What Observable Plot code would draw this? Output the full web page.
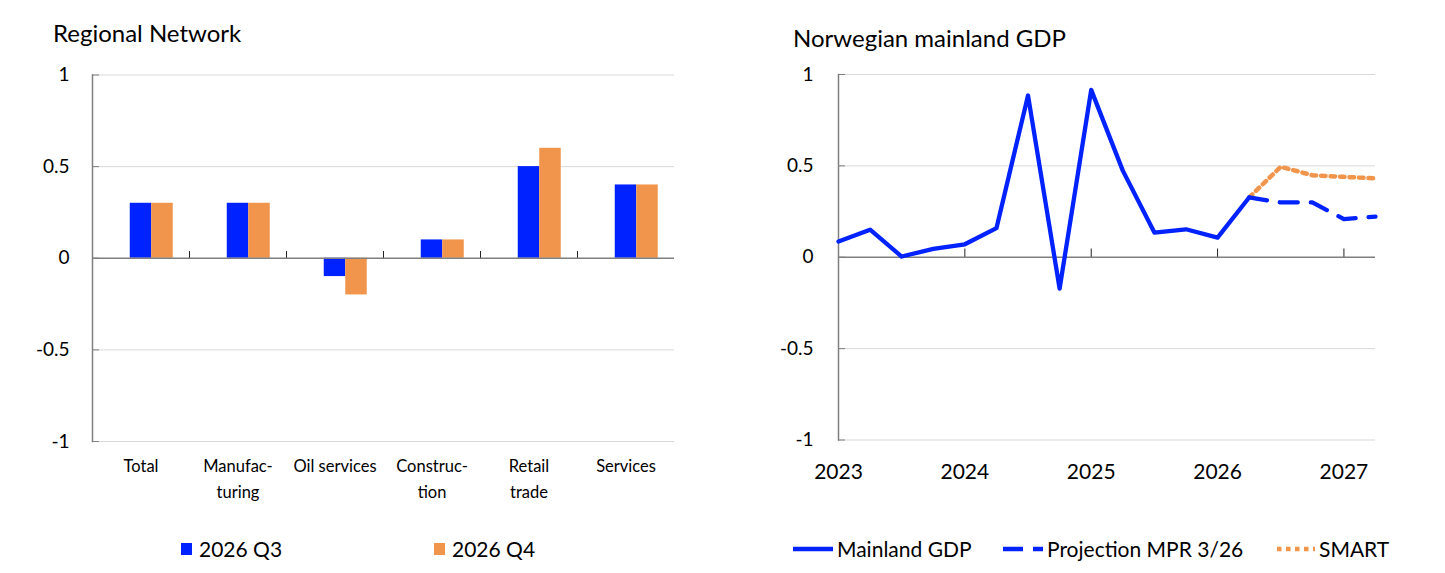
<!DOCTYPE html>
<html>
<head>
<meta charset="utf-8">
<script src="https://cdn.jsdelivr.net/npm/d3@7"></script>
<script src="https://cdn.jsdelivr.net/npm/@observablehq/plot@0.6"></script>
<style>
  html, body { margin: 0; padding: 0; background: #fff; }
  body { font-family: Lato, "Open Sans", sans-serif; color: #000; }
  #wrap { position: relative; width: 1445px; height: 573px; overflow: hidden; }
  .abs { position: absolute; }
  .title { font-size: 24px; line-height: 24px; white-space: nowrap; }
  .leg { font-size: 21px; line-height: 21px; white-space: nowrap; }
  svg { overflow: visible; }
</style>
</head>
<body>
<div id="wrap">
  <div class="abs title" style="left:53px; top:21px;">Regional Network</div>
  <div class="abs title" style="left:793px; top:26px;">Norwegian mainland GDP</div>
  <div id="left" class="abs" style="left:0px; top:50px;"></div>
  <div id="right" class="abs" style="left:720px; top:50px;"></div>
  <div id="legL" class="abs" style="left:0; top:0;"></div>
  <div id="legR" class="abs" style="left:0; top:0;"></div>
</div>
<script>
// ---------- Data ----------
const categories = ["Total", "Manufacturing", "Oil services", "Construction", "Retail trade", "Services"];
const categoryLabels = ["Total", "Manufac-\nturing", "Oil services", "Construc-\ntion", "Retail\ntrade", "Services"];
const seriesQ3 = [0.3, 0.3, -0.1, 0.1, 0.5, 0.4];
const seriesQ4 = [0.3, 0.3, -0.2, 0.1, 0.6, 0.4];
const barSeriesNames = ["2026 Q3", "2026 Q4"];

const yTicks = [-1, -0.5, 0, 0.5, 1];
const yearTicks = [2023, 2024, 2025, 2026, 2027];

const mainlandQuarters = ["2023Q1","2023Q2","2023Q3","2023Q4","2024Q1","2024Q2","2024Q3","2024Q4","2025Q1","2025Q2","2025Q3","2025Q4","2026Q1","2026Q2"];
const mainlandGDP = [0.086, 0.151, 0.004, 0.046, 0.071, 0.159, 0.885, -0.172, 0.916, 0.474, 0.135, 0.153, 0.107, 0.327];
const projQuarters = ["2026Q2","2026Q3","2026Q4","2027Q1","2027Q2"];
const projectionMPR = [0.327, 0.300, 0.300, 0.209, 0.222];
const smartQuarters = ["2026Q2","2026Q3","2026Q4","2027Q1","2027Q2"];
const smart = [0.327, 0.495, 0.449, 0.440, 0.431];
const lineSeriesNames = ["Mainland GDP", "Projection MPR 3/26", "SMART"];

// ---------- Styles ----------
const BLUE = "#0022ff";
const ORANGE = "#f0954b";
const GRID = "#d9d9d9";
const AXIS = "#7f7f7f";
const FONT = "Lato, 'Open Sans', sans-serif";

const qToNum = q => +q.slice(0, 4) + (+q.slice(5) - 1) / 4;

// ---------- Left chart ----------
{
  const W = 700, H = 470, ml = 92, mr = 26;
  const step = (W - ml - mr) / categories.length;
  const bw = 21.5;
  const labelOf = Object.fromEntries(categories.map((c, i) => [c, categoryLabels[i]]));
  const d3data = categories.map((c, i) => ({cat: c, v: seriesQ3[i]}));
  const d4data = categories.map((c, i) => ({cat: c, v: seriesQ4[i]}));
  const chart = Plot.plot({
    width: W, height: H,
    marginLeft: ml, marginRight: mr, marginTop: 24.5, marginBottom: 79,
    style: {fontFamily: FONT, background: "transparent", color: "#000"},
    x: {domain: categories, padding: 0},
    y: {domain: [-1, 1]},
    marks: [
      Plot.gridY(yTicks.filter(d => d !== 0), {stroke: GRID, strokeOpacity: 1}),
      Plot.barY(d3data, {x: "cat", y: "v", fill: BLUE, insetLeft: step / 2 - bw / 2, insetRight: step / 2 - bw / 2}),
      Plot.barY(d4data, {x: "cat", y: "v", fill: ORANGE, insetLeft: step / 2 + bw / 2, insetRight: step / 2 - 1.5 * bw}),
      Plot.ruleY([0], {stroke: AXIS, strokeWidth: 1.5}),
      Plot.ruleX(categories.slice(1), {x: d => d, y1: 0, y2: 0.037, dx: -step / 2, stroke: "#222"}),
      Plot.frame({anchor: "left", stroke: AXIS, strokeWidth: 1.5}),
      Plot.axisY({ticks: yTicks, tickSize: -7, tickPadding: 30, tickFormat: d => String(d), fontSize: 19, stroke: AXIS, label: null}),
      Plot.axisX({tickSize: 0, tickPadding: 12, tickFormat: d => labelOf[d], fontSize: 16.5, lineHeight: 1.57, label: null})
    ]
  });
  document.getElementById("left").appendChild(chart);
}

// ---------- Right chart ----------
{
  const W = 700, H = 470;
  const main = mainlandQuarters.map((q, i) => ({x: qToNum(q), y: mainlandGDP[i]}));
  const proj = projQuarters.map((q, i) => ({x: qToNum(q), y: projectionMPR[i]}));
  const sm = smartQuarters.map((q, i) => ({x: qToNum(q), y: smart[i]}));
  const chart = Plot.plot({
    width: W, height: H,
    marginLeft: 118, marginRight: 45, marginTop: 24, marginBottom: 80.5,
    style: {fontFamily: FONT, background: "transparent", color: "#000"},
    x: {domain: [qToNum(mainlandQuarters[0]), qToNum(smartQuarters[smartQuarters.length - 1])]},
    y: {domain: [-1, 1]},
    marks: [
      Plot.gridY(yTicks.filter(d => d !== 0), {stroke: GRID, strokeOpacity: 1}),
      Plot.ruleY([0], {stroke: AXIS, strokeWidth: 1.5}),
      Plot.ruleX(yearTicks.slice(1), {y1: 0, y2: 0.045, stroke: "#222"}),
      Plot.frame({anchor: "left", stroke: AXIS, strokeWidth: 1.5}),
      Plot.line(sm, {x: "x", y: "y", stroke: ORANGE, strokeWidth: 4.5, strokeDasharray: "4.5,5"}),
      Plot.line(proj, {x: "x", y: "y", stroke: BLUE, strokeWidth: 4.3, strokeDasharray: "18,13"}),
      Plot.line(main, {x: "x", y: "y", stroke: BLUE, strokeWidth: 4.3, strokeLinejoin: "round"}),
      Plot.axisY({ticks: yTicks, tickSize: -7, tickPadding: 32, tickFormat: d => String(d), fontSize: 19, stroke: AXIS, label: null}),
      Plot.axisX({ticks: yearTicks, tickSize: 0, tickPadding: 24, tickFormat: d => String(d), fontSize: 21, label: null})
    ]
  });
  document.getElementById("right").appendChild(chart);
}

// ---------- Legends ----------
{
  const legL = document.getElementById("legL");
  const items = [
    {x: 181, color: BLUE, text: barSeriesNames[0]},
    {x: 434, color: ORANGE, text: barSeriesNames[1]}
  ];
  items.forEach(it => {
    const sq = document.createElement("div");
    sq.className = "abs";
    sq.style.cssText = `left:${it.x}px; top:543px; width:11px; height:12px; background:${it.color};`;
    legL.appendChild(sq);
    const t = document.createElement("div");
    t.className = "abs leg";
    t.style.cssText = `left:${it.x + 18}px; top:538px;`;
    t.textContent = it.text;
    legL.appendChild(t);
  });

  const legR = document.getElementById("legR");
  const litems = [
    {x: 793, len: 40, color: BLUE, dash: null, w: 4.3, text: lineSeriesNames[0]},
    {x: 1003, len: 40, color: BLUE, dash: "20,10", w: 4.3, text: lineSeriesNames[1]},
    {x: 1277, len: 38, color: ORANGE, dash: "4.5,4.5", w: 4.5, text: lineSeriesNames[2]}
  ];
  litems.forEach(it => {
    const ns = "http://www.w3.org/2000/svg";
    const s = document.createElementNS(ns, "svg");
    s.setAttribute("width", it.len);
    s.setAttribute("height", 10);
    s.setAttribute("class", "abs");
    s.style.left = it.x + "px";
    s.style.top = "544px";
    const l = document.createElementNS(ns, "line");
    l.setAttribute("x1", 0); l.setAttribute("x2", it.len);
    l.setAttribute("y1", 5); l.setAttribute("y2", 5);
    l.setAttribute("stroke", it.color);
    l.setAttribute("stroke-width", it.w);
    if (it.dash) l.setAttribute("stroke-dasharray", it.dash);
    s.appendChild(l);
    legR.appendChild(s);
    const t = document.createElement("div");
    t.className = "abs leg";
    t.style.cssText = `left:${it.x + it.len + 4}px; top:538px;`;
    t.textContent = it.text;
    legR.appendChild(t);
  });
}
</script>
</body>
</html>
